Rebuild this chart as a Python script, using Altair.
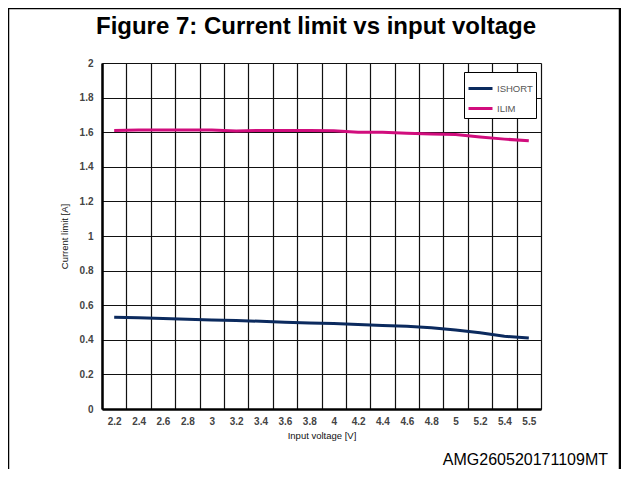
import altair as alt
import pandas as pd

voltages = ["2.2", "2.4", "2.6", "2.8", "3", "3.2", "3.4", "3.6", "3.8", "4",
            "4.2", "4.4", "4.6", "4.8", "5", "5.2", "5.4", "5.5"]
ishort = [0.531, 0.527, 0.523, 0.519, 0.515, 0.511, 0.507, 0.502, 0.497, 0.494,
          0.489, 0.483, 0.478, 0.470, 0.457, 0.441, 0.420, 0.410]
ilim = [1.610, 1.612, 1.612, 1.613, 1.612, 1.607, 1.610, 1.610, 1.610, 1.608,
        1.600, 1.600, 1.594, 1.590, 1.587, 1.572, 1.560, 1.550]
series = ["ISHORT", "ILIM"]
colors = ["#0b2a5e", "#d10d7d"]
y_ticks = [0, 0.2, 0.4, 0.6, 0.8, 1.0, 1.2, 1.4, 1.6, 1.8, 2.0]
title_text = "Figure 7: Current limit vs input voltage"
footer_text = "AMG260520171109MT"

df = pd.concat([
    pd.DataFrame({"V": voltages, "I": ishort, "series": "ISHORT"}),
    pd.DataFrame({"V": voltages, "I": ilim, "series": "ILIM"}),
])

FONT = "Liberation Sans"

lines = alt.Chart(df).mark_line(strokeWidth=3).encode(
    x=alt.X("V:O", sort=voltages, bandPosition=0.5,
            scale=alt.Scale(type="band", paddingInner=0, paddingOuter=0),
            axis=alt.Axis(title="Input voltage [V]", tickBand="extent", labelAngle=0,
                          grid=True, gridColor="#111", gridWidth=1.2, ticks=False,
                          domainColor="black", domainWidth=2.5,
                          labelFont=FONT, labelFontSize=10, labelFontWeight="bold",
                          labelColor="#444", labelPadding=7,
                          titleFont=FONT, titleFontSize=9.5, titleFontWeight="normal",
                          titleColor="#111", titlePadding=4)),
    y=alt.Y("I:Q", scale=alt.Scale(domain=[0, 2], nice=False),
            axis=alt.Axis(title="Current limit [A]", values=y_ticks, format="~g",
                          grid=True, gridColor="#111", gridWidth=1.2, ticks=False,
                          domainColor="black", domainWidth=2.5,
                          labelFont=FONT, labelFontSize=10, labelFontWeight="bold",
                          labelColor="#444", labelPadding=9,
                          titleFont=FONT, titleFontSize=9.5, titleFontWeight="normal",
                          titleColor="#111", titlePadding=10)),
    color=alt.Color("series:N",
                    scale=alt.Scale(domain=series, range=colors),
                    legend=alt.Legend(title=None, orient="none", legendX=362, legendY=9,
                                      symbolType="stroke", symbolSize=576,
                                      symbolStrokeWidth=3, labelFont=FONT,
                                      labelFontSize=9.5, labelColor="#555",
                                      labelOffset=3, padding=3, rowPadding=0,
                                      fillColor="white", strokeColor="black",
                                      cornerRadius=0)),
)

one = pd.DataFrame({"a": [0]})

frame = alt.Chart(one).mark_rect(
    fill=None, stroke="black", strokeWidth=2.5
).encode(x=alt.value(-94), x2=alt.value(518), y=alt.value(-55), y2=alt.value(420))

title = alt.Chart(one).mark_text(
    align="center", baseline="alphabetic", font=FONT, fontSize=24,
    fontWeight="bold", color="black"
).encode(x=alt.value(214), y=alt.value(-29), text=alt.value(title_text))

footer = alt.Chart(one).mark_text(
    align="right", baseline="alphabetic", font=FONT, fontSize=16, color="black"
).encode(x=alt.value(506), y=alt.value(402), text=alt.value(footer_text))

chart = alt.layer(lines, frame, title, footer).properties(
    width=439, height=346,
    padding={"left": 94, "top": 55, "right": 80, "bottom": 60},
    autosize=alt.AutoSizeParams(type="none"),
).configure_view(stroke="black", strokeWidth=1).configure(background="white")

chart.save("out.html", embed_options={"renderer": "svg", "actions": False})
